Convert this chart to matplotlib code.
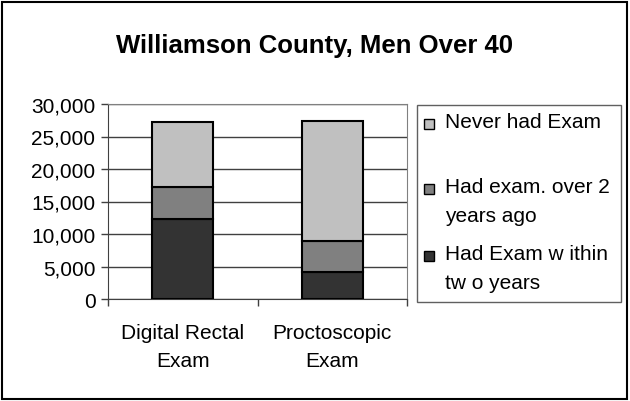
import matplotlib
matplotlib.use("Agg")
import matplotlib.pyplot as plt
from matplotlib.patches import Rectangle

# ── Data ──────────────────────────────────────────────────────────────────────
categories   = ["Digital Rectal\nExam", "Proctoscopic\nExam"]
within_two   = [12300, 4100]    # Had Exam within two years
over_two     = [5000, 4800]     # Had exam. over 2 years ago
never_had    = [9900, 18500]    # Never had Exam
series_names = ["Never had Exam", "Had exam. over 2\nyears ago", "Had Exam w ithin\ntw o years"]
y_ticks      = [0, 5000, 10000, 15000, 20000, 25000, 30000]

colors = {"never": "#C0C0C0", "over": "#808080", "within": "#333333"}

plt.rcParams["font.family"] = ["Liberation Sans", "DejaVu Sans"]

fig = plt.figure(figsize=(6.3, 4.02), dpi=100)
W, H = 630, 402
ax = fig.add_axes([108 / W, 1 - 300 / H, 299 / W, 195 / H])

x = range(len(categories))
bw = 0.41
b1 = [a for a in within_two]
b2 = [a + b for a, b in zip(within_two, over_two)]
ax.bar(x, within_two, bw, color=colors["within"], edgecolor="black", linewidth=1.5, zorder=3)
ax.bar(x, over_two, bw, bottom=b1, color=colors["over"], edgecolor="black", linewidth=1.5, zorder=3)
ax.bar(x, never_had, bw, bottom=b2, color=colors["never"], edgecolor="black", linewidth=1.5, zorder=3)

ax.set_xlim(-0.5, 1.5)
ax.set_ylim(0, 30000)
ax.set_yticks(y_ticks)
ax.set_yticklabels([f"{v:,}" for v in y_ticks], fontsize=15)
ax.set_xticks([-0.5, 0.5, 1.5])
ax.set_xticklabels([])
ax.set_xticks(list(x), minor=True)
ax.set_xticklabels(categories, minor=True, fontsize=15, linespacing=1.6)
ax.tick_params(axis="x", which="minor", length=0, pad=17)
ax.tick_params(axis="x", which="major", length=5, color="#404040", width=1)
ax.tick_params(axis="y", length=5, color="#404040", width=1, pad=4)

ax.yaxis.grid(True, color="#404040", linewidth=1, zorder=0)
ax.spines["left"].set_color("#404040")
ax.spines["bottom"].set_color("#404040")
ax.spines["top"].set_color("#808080")
ax.spines["right"].set_color("#808080")

# ── Title ─────────────────────────────────────────────────────────────────────
fig.text(315 / W, 1 - 46 / H, "Williamson County, Men Over 40",
         ha="center", va="center", fontsize=18.5, fontweight="bold")

# ── Legend (Excel style, marker on first line) ────────────────────────────────
fig.patches.append(Rectangle((417 / W, 1 - 303 / H), 204 / W, 197 / H,
                             transform=fig.transFigure, fill=False,
                             edgecolor="#606060", linewidth=1))
leg_rows  = [125, 190, 257]
leg_cols  = [colors["never"], colors["over"], colors["within"]]
for yy, col, name in zip(leg_rows, leg_cols, series_names):
    fig.patches.append(Rectangle((424 / W, 1 - (yy + 5) / H), 10 / W, 10 / H,
                                 transform=fig.transFigure, facecolor=col,
                                 edgecolor="black", linewidth=1))
    fig.text(445 / W, 1 - (yy - 12) / H, name, ha="left", va="top",
             fontsize=15, linespacing=1.7)

# ── Outer chart border ────────────────────────────────────────────────────────
fig.patches.append(Rectangle((2 / W, 2 / H), 625 / W, 397 / H,
                             transform=fig.transFigure, fill=False,
                             edgecolor="black", linewidth=1.5))

plt.savefig("out.png", dpi=100)
plt.close()
